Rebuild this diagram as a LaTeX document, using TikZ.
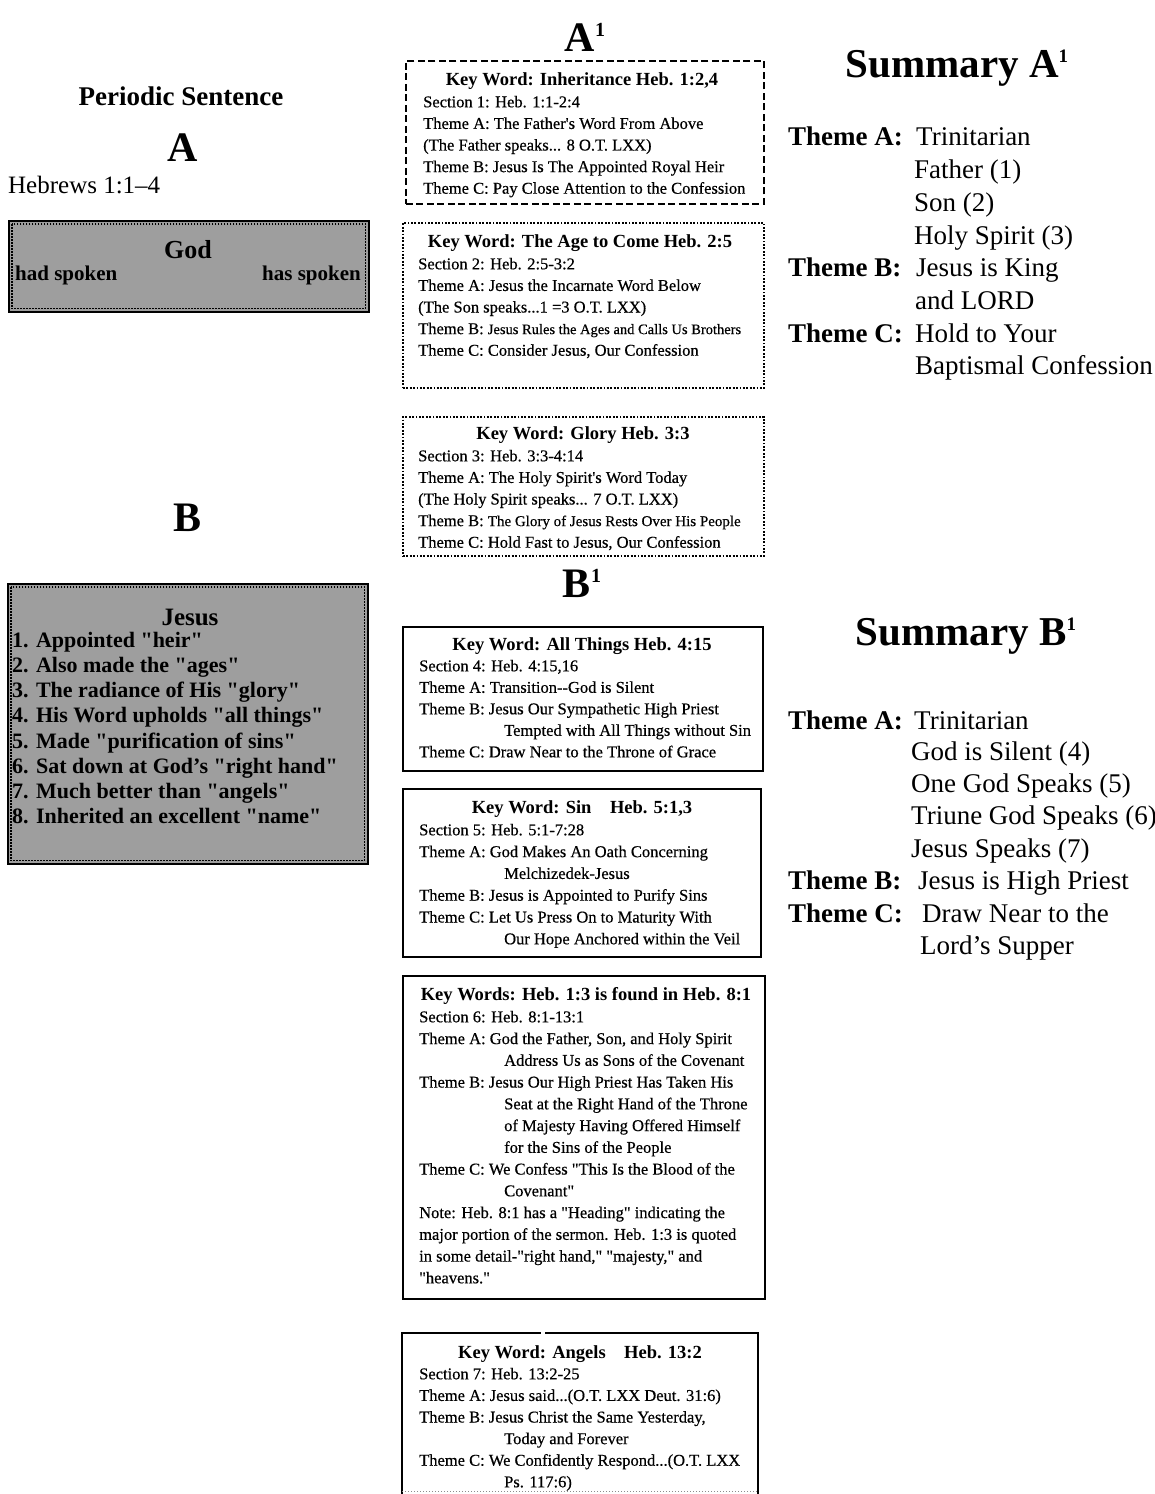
\documentclass[tikz,border=0pt]{standalone}
\usepackage{fontspec}
\setmainfont{Liberation Serif}
\newfontfamily\bodyfont{Liberation Serif}[FakeBold=0.5]
\usetikzlibrary{calc}
\newcommand\fsz[1]{\fontsize{#1}{#1}\selectfont}
\newcommand\cont{\hspace*{85pt}}
\newcommand\ellip{...}
\newcommand\q{\textquotedbl}
% lines of a box: name prefix, x, first y, step, list of lines
\newcommand\textlines[5]{%
  \foreach \lineText [count=\idx] in {#5}{%
    \node[boxline] (#1\idx) at (#2,{#3+#4*(\idx-1)}) {\lineText};}}
\begin{document}
\begin{tikzpicture}[x=1pt,y=-1pt,
  every node/.style={inner sep=0pt},
  bigletter/.style={font=\fsz{42}\bfseries},
  heading/.style={font=\fsz{41}\bfseries},
  shadebox/.style={draw,line width=1.6pt,fill=black!38,anchor=north west},
  innerdots/.style={line width=1.6pt,dash pattern=on 1.6pt off 1.4pt},
  shadetext/.style={font=\fsz{22}\bfseries,anchor=mid west},
  dashbox/.style={draw,line width=1.8pt,dash pattern=on 7pt off 3.5pt,anchor=north west},
  dotbox/.style={draw,line width=1.8pt,dash pattern=on 1.8pt off 1.6pt,anchor=north west},
  solidbox/.style={draw,line width=1.8pt,anchor=north west},
  keyline/.style={font=\fsz{18.5}\bfseries,anchor=mid},
  boxline/.style={font=\bodyfont\fsz{16.5},anchor=mid west},
  sumlab/.style={font=\fsz{27}\bfseries,anchor=mid west},
  sumtxt/.style={font=\fsz{27},anchor=mid west}]
\useasboundingbox (0,0) rectangle (1154,1494);

% ---------- left column ----------
\node[font=\fsz{27}\bfseries] (periodic) at (181,96) {Periodic Sentence};
\node[bigletter] (letterA) at (183,148) {A};
\node[font=\fsz{25},anchor=mid west] (hebrews) at (8,191) {Hebrews 1:1--4};

\node[shadebox,minimum width=360pt,minimum height=91pt] (godbox) at (8,220) {};
\draw[innerdots] ($(godbox.north west)+(4,4)$) rectangle ($(godbox.south east)+(-4,-4)$);
\node[font=\fsz{26}\bfseries] (god) at (188,250) {God};
\node[font=\fsz{21}\bfseries,anchor=mid west] (had) at (15,278) {had spoken};
\node[font=\fsz{21}\bfseries,anchor=mid east] (has) at (361,278) {has spoken};

\node[bigletter] (letterB) at (188,518) {B};

\node[shadebox,minimum width=360pt,minimum height=280pt] (jesusbox) at (7,583) {};
\draw[innerdots] ($(jesusbox.north west)+(4,4)$) rectangle ($(jesusbox.south east)+(-4,-4)$);
\node[font=\fsz{25}\bfseries] (jesus) at (190,617) {Jesus};
\foreach \item [count=\idx] in {%
  {1. Appointed \q heir\q},
  {2. Also made the \q ages\q},
  {3. The radiance of His \q glory\q},
  {4. His Word upholds \q all things\q},
  {5. Made \q purification of sins\q},
  {6. Sat down at God's \q right hand\q},
  {7. Much better than \q angels\q},
  {8. Inherited an excellent \q name\q}}{%
  \node[shadetext] (jitem\idx) at (12,{645+25.2*(\idx-1)}) {\item};}

% ---------- middle column ----------
\node[bigletter] (letterA1) at (585,37) {A\raisebox{15pt}{\fsz{20}1}};

\node[dashbox,minimum width=358pt,minimum height=143pt] (box1) at (405,60) {};
\node[keyline] (key1) at (582,83) {Key Word: Inheritance Heb. 1:2,4};
\textlines{bxa}{423}{105}{21.6}{%
  {Section 1: Heb. 1:1-2:4},
  {Theme A: The Father's Word From Above},
  {(The Father speaks\ellip{} 8 O.T. LXX)},
  {Theme B: Jesus Is The Appointed Royal Heir},
  {Theme C: Pay Close Attention to the Confession}}

\node[dotbox,minimum width=361pt,minimum height=165pt] (box2) at (402,222) {};
\node[keyline] (key2) at (580,245) {Key Word: The Age to Come Heb. 2:5};
\textlines{bxb}{418}{267}{21.6}{%
  {Section 2: Heb. 2:5-3:2},
  {Theme A: Jesus the Incarnate Word Below},
  {(The Son speaks\ellip 1 =3 O.T. LXX)},
  {Theme B: {\fsz{14.5}Jesus Rules the Ages and Calls Us Brothers}},
  {Theme C: Consider Jesus, Our Confession}}

\node[dotbox,minimum width=361pt,minimum height=139pt] (box3) at (402,416) {};
\node[keyline] (key3) at (583,437) {Key Word: Glory Heb. 3:3};
\textlines{bxc}{418}{459}{21.6}{%
  {Section 3: Heb. 3:3-4:14},
  {Theme A: The Holy Spirit's Word Today},
  {(The Holy Spirit speaks\ellip{} 7 O.T. LXX)},
  {Theme B: {\fsz{15}The Glory of Jesus Rests Over His People}},
  {Theme C: Hold Fast to Jesus, Our Confession}}

\node[bigletter] (letterB1) at (582,583) {B\raisebox{15pt}{\fsz{20}1}};

\node[solidbox,minimum width=360pt,minimum height=144pt] (box4) at (402,626) {};
\node[keyline] (key4) at (582,648) {Key Word: All Things Heb. 4:15};
\textlines{bxd}{419}{669}{21.5}{%
  {Section 4: Heb. 4:15,16},
  {Theme A: Transition--God is Silent},
  {Theme B: Jesus Our Sympathetic High Priest},
  {\cont Tempted with All Things without Sin},
  {Theme C: Draw Near to the Throne of Grace}}

\node[solidbox,minimum width=358pt,minimum height=168pt] (box5) at (402,788) {};
\node[keyline] (key5) at (582,811) {Key Word: Sin\quad Heb. 5:1,3};
\textlines{bxe}{419}{833}{21.8}{%
  {Section 5: Heb. 5:1-7:28},
  {Theme A: God Makes An Oath Concerning},
  {\cont Melchizedek-Jesus},
  {Theme B: Jesus is Appointed to Purify Sins},
  {Theme C: Let Us Press On to Maturity With},
  {\cont Our Hope Anchored within the Veil}}

\node[solidbox,minimum width=362pt,minimum height=323pt] (box6) at (402,975) {};
\node[keyline] (key6) at (586,998) {Key Words: Heb. 1:3 is found in Heb. 8:1};
\textlines{bxf}{419}{1020}{21.75}{%
  {Section 6: Heb. 8:1-13:1},
  {Theme A: God the Father, Son, and Holy Spirit},
  {\cont Address Us as Sons of the Covenant},
  {Theme B: Jesus Our High Priest Has Taken His},
  {\cont Seat at the Right Hand of the Throne},
  {\cont of Majesty Having Offered Himself},
  {\cont for the Sins of the People},
  {Theme C: We Confess \q This Is the Blood of the},
  {\cont Covenant\q},
  {Note: Heb. 8:1 has a \q Heading\q{} indicating the},
  {major portion of the sermon. Heb. 1:3 is quoted},
  {in some detail-\q right hand,\q{} \q majesty,\q{} and},
  {\q heavens.\q}}

% last box runs off the lower edge of the page
\coordinate (b7nw) at (402,1333);
\coordinate (b7ne) at (758,1333);
\coordinate (b7sw) at (402,1500);
\coordinate (b7se) at (758,1500);
\draw[line width=1.8pt] (b7sw) -- (b7nw) -- ($(b7nw)+(139,0)$);
\draw[line width=1.8pt] ($(b7nw)+(143,0)$) -- (b7ne) -- (b7se);
\draw[line width=1pt,black!45,dash pattern=on 1pt off 2pt] (402,1491) -- (758,1491);
\node[keyline] (key7) at (580,1356) {Key Word: Angels\quad Heb. 13:2};
\textlines{bxg}{419}{1377}{21.6}{%
  {Section 7: Heb. 13:2-25},
  {Theme A: Jesus said\ellip(O.T. LXX Deut. 31:6)},
  {Theme B: Jesus Christ the Same Yesterday,},
  {\cont Today and Forever},
  {Theme C: We Confidently Respond\ellip(O.T. LXX},
  {\cont Ps. 117:6)}}

% ---------- right column ----------
\node[heading] (sumA) at (957,68) {Summary A\raisebox{15pt}{\fsz{19}1}};
\node[sumlab] (sa1) at (788,143) {Theme A:};
\node[sumtxt] (sa1t) at (916,143) {Trinitarian};
\node[sumtxt] (sa2) at (914,176) {Father (1)};
\node[sumtxt] (sa3) at (914,209) {Son (2)};
\node[sumtxt] (sa4) at (914,242) {Holy Spirit (3)};
\node[sumlab] (sb1) at (788,274) {Theme B:};
\node[sumtxt] (sb1t) at (916,274) {Jesus is King};
\node[sumtxt] (sb2) at (915,307) {and LORD};
\node[sumlab] (sc1) at (788,340) {Theme C:};
\node[sumtxt] (sc1t) at (915,340) {Hold to Your};
\node[sumtxt] (sc2) at (915,372) {Baptismal Confession};

\node[heading] (sumB) at (966,636) {Summary B\raisebox{15pt}{\fsz{19}1}};
\node[sumlab] (ta1) at (788,727) {Theme A:};
\node[sumtxt] (ta1t) at (914,727) {Trinitarian};
\node[sumtxt] (ta2) at (911,758) {God is Silent (4)};
\node[sumtxt] (ta3) at (911,790) {One God Speaks (5)};
\node[sumtxt] (ta4) at (911,822) {Triune God Speaks (6)};
\node[sumtxt] (ta5) at (911,855) {Jesus Speaks (7)};
\node[sumlab] (tb1) at (788,887) {Theme B:};
\node[sumtxt] (tb1t) at (918,887) {Jesus is High Priest};
\node[sumlab] (tc1) at (788,920) {Theme C:};
\node[sumtxt] (tc1t) at (922,920) {Draw Near to the};
\node[sumtxt] (tc2) at (920,952) {Lord's Supper};
\end{tikzpicture}
\end{document}
